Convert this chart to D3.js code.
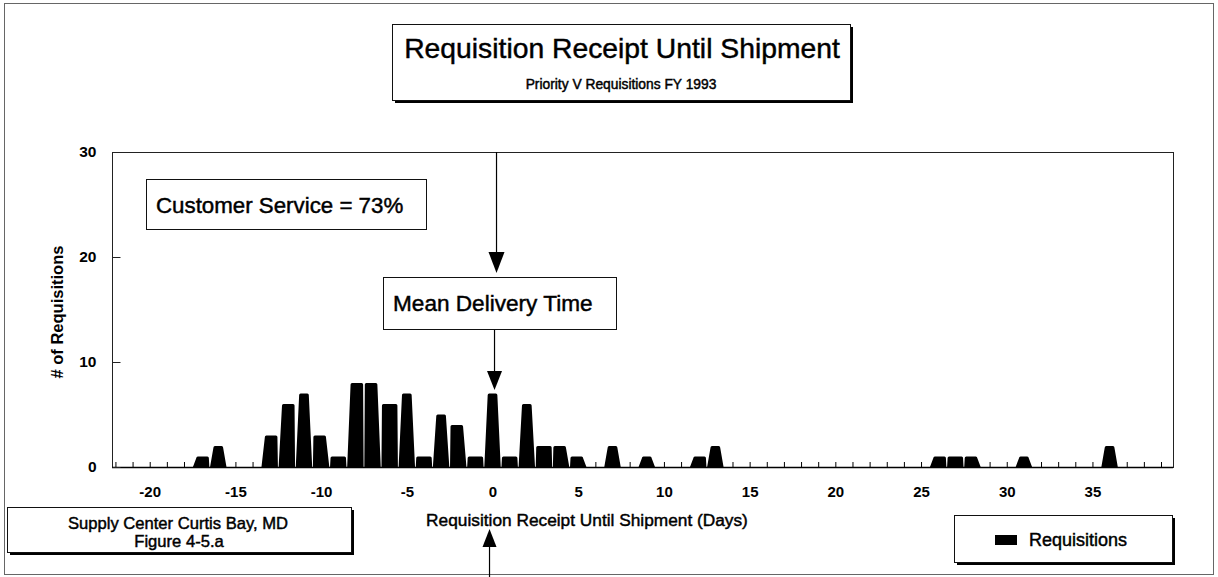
<!DOCTYPE html>
<html>
<head>
<meta charset="utf-8">
<script src="https://cdn.jsdelivr.net/npm/d3@7"></script>
<style>
  html, body { margin: 0; padding: 0; background: #fff; }
  svg { display: block; font-family: "Liberation Sans", Arial, sans-serif; }
  .heavy { stroke: #000; stroke-width: 0.45px; }
</style>
</head>
<body>
<svg id="chart" width="1218" height="577"></svg>
<script>
// ---- data ----
const days = d3.range(-22, 40);            // categories: days from receipt to shipment
const requisitions = [
  0, 0, 0, 0, 0, 1, 2, 0, 0, 3,            // -22 .. -13
  6, 7, 3, 1, 8, 8, 6, 7, 1, 5,            // -12 .. -3
  4, 1, 7, 1, 6, 2, 2, 1, 0, 2,            // -2 .. 7
  0, 1, 0, 0, 1, 2, 0, 0, 0, 0,            // 8 .. 17
  0, 0, 0, 0, 0, 0, 0, 0, 1, 1,            // 18 .. 27
  1, 0, 0, 1, 0, 0, 0, 0, 2, 0,            // 28 .. 37
  0, 0                                     // 38 .. 39
];
const xTickValues = [-20, -15, -10, -5, 0, 5, 10, 15, 20, 25, 30, 35];
const yTickValues = [0, 10, 20, 30];
const meanDeliveryDay = 0;

const titleText = "Requisition Receipt Until Shipment";
const subtitleText = "Priority V Requisitions FY 1993";
const xTitle = "Requisition Receipt Until Shipment (Days)";
const yTitle = "# of Requisitions";
const serviceText = "Customer Service = 73%";
const meanText = "Mean Delivery Time";
const sourceLines = ["Supply Center Curtis Bay, MD", "Figure 4-5.a"];
const legendText = "Requisitions";

// ---- layout ----
const svg = d3.select("#chart");
const plot = { left: 112, right: 1173, top: 152, bottom: 467 };

const x = d3.scaleLinear().domain([-22.2, 39.7]).range([plot.left, plot.right]);
const y = d3.scaleLinear().domain([0, 30]).range([plot.bottom, plot.top]);

// outer border
svg.append("rect").attr("x", 4.5).attr("y", 3.5).attr("width", 1209).attr("height", 571)
  .attr("fill", "none").attr("stroke", "#666").attr("stroke-width", 1);

// helper: box with optional drop shadow
function box(x0, y0, w, h, shadow) {
  if (shadow) {
    svg.append("rect").attr("x", x0 + 3).attr("y", y0 + 3).attr("width", w).attr("height", h)
      .attr("fill", "#000");
  }
  svg.append("rect").attr("x", x0 + 0.5).attr("y", y0 + 0.5).attr("width", w).attr("height", h)
    .attr("fill", "#fff").attr("stroke", "#111").attr("stroke-width", 1);
}
function label(xp, yp, size, txt, anchor) {
  return svg.append("text").attr("class", "heavy").attr("x", xp).attr("y", yp)
    .attr("text-anchor", anchor || "start").attr("font-size", size).attr("fill", "#000").text(txt);
}

// title box
box(392, 24, 458, 76, true);
label(622, 58, 28.3, titleText, "middle");
label(621, 89, 13.8, subtitleText, "middle");

// plot frame
svg.append("rect").attr("x", plot.left + 0.5).attr("y", plot.top + 0.5)
  .attr("width", plot.right - plot.left).attr("height", plot.bottom - plot.top)
  .attr("fill", "none").attr("stroke", "#222").attr("stroke-width", 1);

// small category ticks along the baseline
svg.append("g").selectAll("line").data(days).join("line")
  .attr("x1", d => x(d) + 0.5).attr("x2", d => x(d) + 0.5)
  .attr("y1", plot.bottom).attr("y2", plot.bottom - 5)
  .attr("stroke", "#000").attr("stroke-width", 1);

// bars (trapezoid steps)
const unit = x(1) - x(0);
const halfBottom = unit / 2 - 0.35;
const slant = 3.4;
const barData = days.map((d, i) => ({
  day: d, v: requisitions[i],
  prev: i > 0 ? requisitions[i - 1] : 0,
  next: i < days.length - 1 ? requisitions[i + 1] : 0
})).filter(b => b.v > 0);

svg.append("g").selectAll("path").data(barData).join("path")
  .attr("d", b => {
    const cx = x(b.day), y0 = y(0), y1 = y(b.v);
    const ls = b.prev < b.v ? slant : 0.5;
    const rs = b.next < b.v ? slant : 0.5;
    return `M${cx - halfBottom},${y0} L${cx - halfBottom + ls},${y1 + 1.5} Q${cx - halfBottom + ls},${y1} ${cx - halfBottom + ls + 1.5},${y1}` +
           ` L${cx + halfBottom - rs - 1.5},${y1} Q${cx + halfBottom - rs},${y1} ${cx + halfBottom - rs},${y1 + 1.5} L${cx + halfBottom},${y0} Z`;
  })
  .attr("fill", "#000");

// baseline
svg.append("line").attr("x1", plot.left).attr("x2", plot.right)
  .attr("y1", plot.bottom + 0.5).attr("y2", plot.bottom + 0.5)
  .attr("stroke", "#000").attr("stroke-width", 1.5);

// y axis (ticks pointing inward)
const yAxis = d3.axisLeft(y).tickValues(yTickValues).tickSizeInner(-8).tickSizeOuter(0).tickPadding(16);
const gy = svg.append("g").attr("transform", `translate(${plot.left + 0.5},0)`).call(yAxis);
gy.select(".domain").remove();
gy.selectAll(".tick line").attr("stroke", "#222");
gy.selectAll(".tick text").attr("font-size", 15.5).attr("font-weight", "bold")
  .attr("font-family", "'Liberation Sans', Arial, sans-serif").attr("fill", "#000");

// x axis
const xAxis = d3.axisBottom(x).tickValues(xTickValues).tickSize(0).tickPadding(19)
  .tickFormat(d3.format("d"));
const gx = svg.append("g").attr("transform", `translate(0,${plot.bottom})`).call(xAxis);
gx.select(".domain").remove();
gx.selectAll(".tick text").attr("font-size", 15).attr("font-weight", "bold")
  .attr("font-family", "'Liberation Sans', Arial, sans-serif").attr("fill", "#000")
  .text(d => d < 0 ? "-" + Math.abs(d) : d);

// axis titles
label(587, 526, 17.3, xTitle, "middle");
svg.append("text").attr("transform", "translate(63,312) rotate(-90)").attr("text-anchor", "middle")
  .attr("font-size", 16.5).attr("font-weight", "bold").attr("fill", "#000").text(yTitle);

// customer service box
box(146, 179, 280, 50, false);
label(156, 213, 22.3, serviceText);

// mean delivery arrows and box
const mx = x(meanDeliveryDay);
function downArrow(xc, yStart, yTip, headH, headW) {
  svg.append("line").attr("x1", xc).attr("x2", xc).attr("y1", yStart).attr("y2", yTip - headH + 1)
    .attr("stroke", "#000").attr("stroke-width", 1.2);
  svg.append("path").attr("d", `M${xc - headW / 2},${yTip - headH} L${xc + headW / 2},${yTip - headH} L${xc},${yTip} Z`)
    .attr("fill", "#000");
}
downArrow(mx + 4, plot.top, 273, 21, 16);
box(383, 277, 233, 52, false);
label(393, 311, 22.6, meanText);
downArrow(mx + 2, 330, 390, 19, 15);

// up arrow under the axis title
svg.append("line").attr("x1", mx - 3).attr("x2", mx - 3).attr("y1", 545).attr("y2", 577)
  .attr("stroke", "#000").attr("stroke-width", 1.2);
svg.append("path").attr("d", `M${mx - 10},${547} L${mx + 4},${547} L${mx - 3},${529} Z`).attr("fill", "#000");

// source box
box(7, 507, 344, 45, true);
label(178, 529, 16.6, sourceLines[0], "middle");
label(179, 547, 16.6, sourceLines[1], "middle");

// legend
box(954, 515, 218, 47, true);
svg.append("rect").attr("x", 995).attr("y", 535).attr("width", 22).attr("height", 10).attr("fill", "#000");
label(1029, 546, 18, legendText);
</script>
</body>
</html>
